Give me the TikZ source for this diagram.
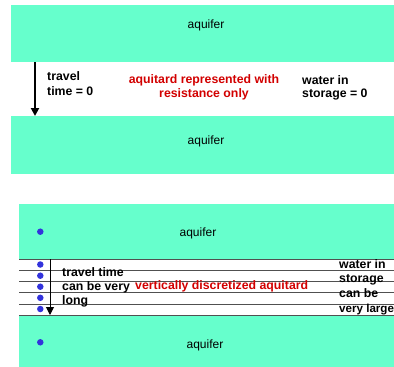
\documentclass[tikz,border=0pt]{standalone}
\usepackage{fontspec}
\setmainfont{Liberation Sans}
\usetikzlibrary{arrows.meta}
\begin{document}
\begin{tikzpicture}[x=1pt,y=-1pt,
  aq/.style={draw=none,fill=aqgreen,minimum width=#1,inner sep=0,outer sep=0,anchor=north west},
  layer/.style={draw=none,fill=white,minimum width=375pt,inner sep=0,outer sep=0,anchor=north west},
  sep/.style={draw=layergray,line width=1pt},
  aqlab/.style={anchor=base,inner sep=0,font=\fontsize{12}{14}\selectfont},
  blk/.style={anchor=base west,inner sep=0,font=\fontsize{12.3}{14}\selectfont\bfseries},
  redtxt/.style={anchor=base,inner sep=0,text=redc,font=\fontsize{12.3}{14}\selectfont\bfseries},
  dot/.style={circle,fill=dotblue,minimum size=6.5pt,inner sep=0}]
\definecolor{aqgreen}{RGB}{102,255,204}
\definecolor{layergray}{RGB}{80,80,80}
\definecolor{redc}{RGB}{210,0,0}
\definecolor{dotblue}{RGB}{51,51,220}
\useasboundingbox (0,0) rectangle (394,367);
\clip (0,0) rectangle (394,367);
% ---- top figure ----
\node[aq=383pt,minimum height=57pt] (a1) at (11,5) {};
\node[aq=383pt,minimum height=58pt] (a2) at (11,116) {};
\node[aqlab] (a1t) at (206,28.5) {aquifer};
\node[aqlab] (a2t) at (206,144.5) {aquifer};
\draw[line width=2pt,-{Triangle[width=8pt,length=8pt]}] ([xshift=24pt]a1.south west) -- ([xshift=24pt]a2.north west);
\node[blk] (tt1) at (47,80) {travel};
\node[blk] (tt2) at (47,95) {time = 0};
\node[redtxt] (r1) at (204,83.5) {aquitard represented with};
\node[redtxt] (r2) at (204,97.5) {resistance only};
\node[blk] (w1) at (302,84) {water in};
\node[blk] (w2) at (302,97.5) {storage = 0};
% ---- bottom figure ----
\node[aq=375pt,minimum height=55pt] (b1) at (19,204) {};
\node[aq=375pt,minimum height=52pt] (b2) at (19,315) {};
\node[layer,minimum height=11pt] (l1) at (19,259) {};
\node[layer,minimum height=11pt] (l2) at (19,270) {};
\node[layer,minimum height=11pt] (l3) at (19,281) {};
\node[layer,minimum height=12pt] (l4) at (19,292) {};
\node[layer,minimum height=11pt] (l5) at (19,304) {};
\foreach \l in {l1,l2,l3,l4,l5} \draw[sep] (\l.north west) -- (\l.north east);
\draw[sep] (l5.south west) -- (l5.south east);
\node[aqlab] (b1t) at (198,236.5) {aquifer};
\node[aqlab] (b2t) at (205,348) {aquifer};
\node[dot] (d0) at (40.3,231.7) {};
\node[dot] (d1) at (40.3,264.5) {};
\node[dot] (d2) at (40.3,275.7) {};
\node[dot] (d3) at (40.3,286.7) {};
\node[dot] (d4) at (40.3,297.8) {};
\node[dot] (d5) at (40.3,309) {};
\node[dot] (d6) at (40.3,342.3) {};
\draw[line width=1pt,-{Triangle[width=8pt,length=8pt]}] ([xshift=31pt]l1.north west) -- ([xshift=31pt]l5.south west);
\node[blk] (v1) at (62,276.5) {travel time};
\node[blk] (v2) at (62,290.5) {can be very};
\node[blk] (v3) at (62,304.5) {long};
\node[redtxt,anchor=base west] (rv) at (135,289) {vertically discretized aquitard};
\node[blk] (s1) at (339,268) {water in};
\node[blk] (s2) at (339,282.5) {storage};
\node[blk] (s3) at (339,297.5) {can be};
\node[blk,font=\fontsize{11.6}{14}\selectfont\bfseries] (s4) at (339,312) {very large};
\end{tikzpicture}
\end{document}
